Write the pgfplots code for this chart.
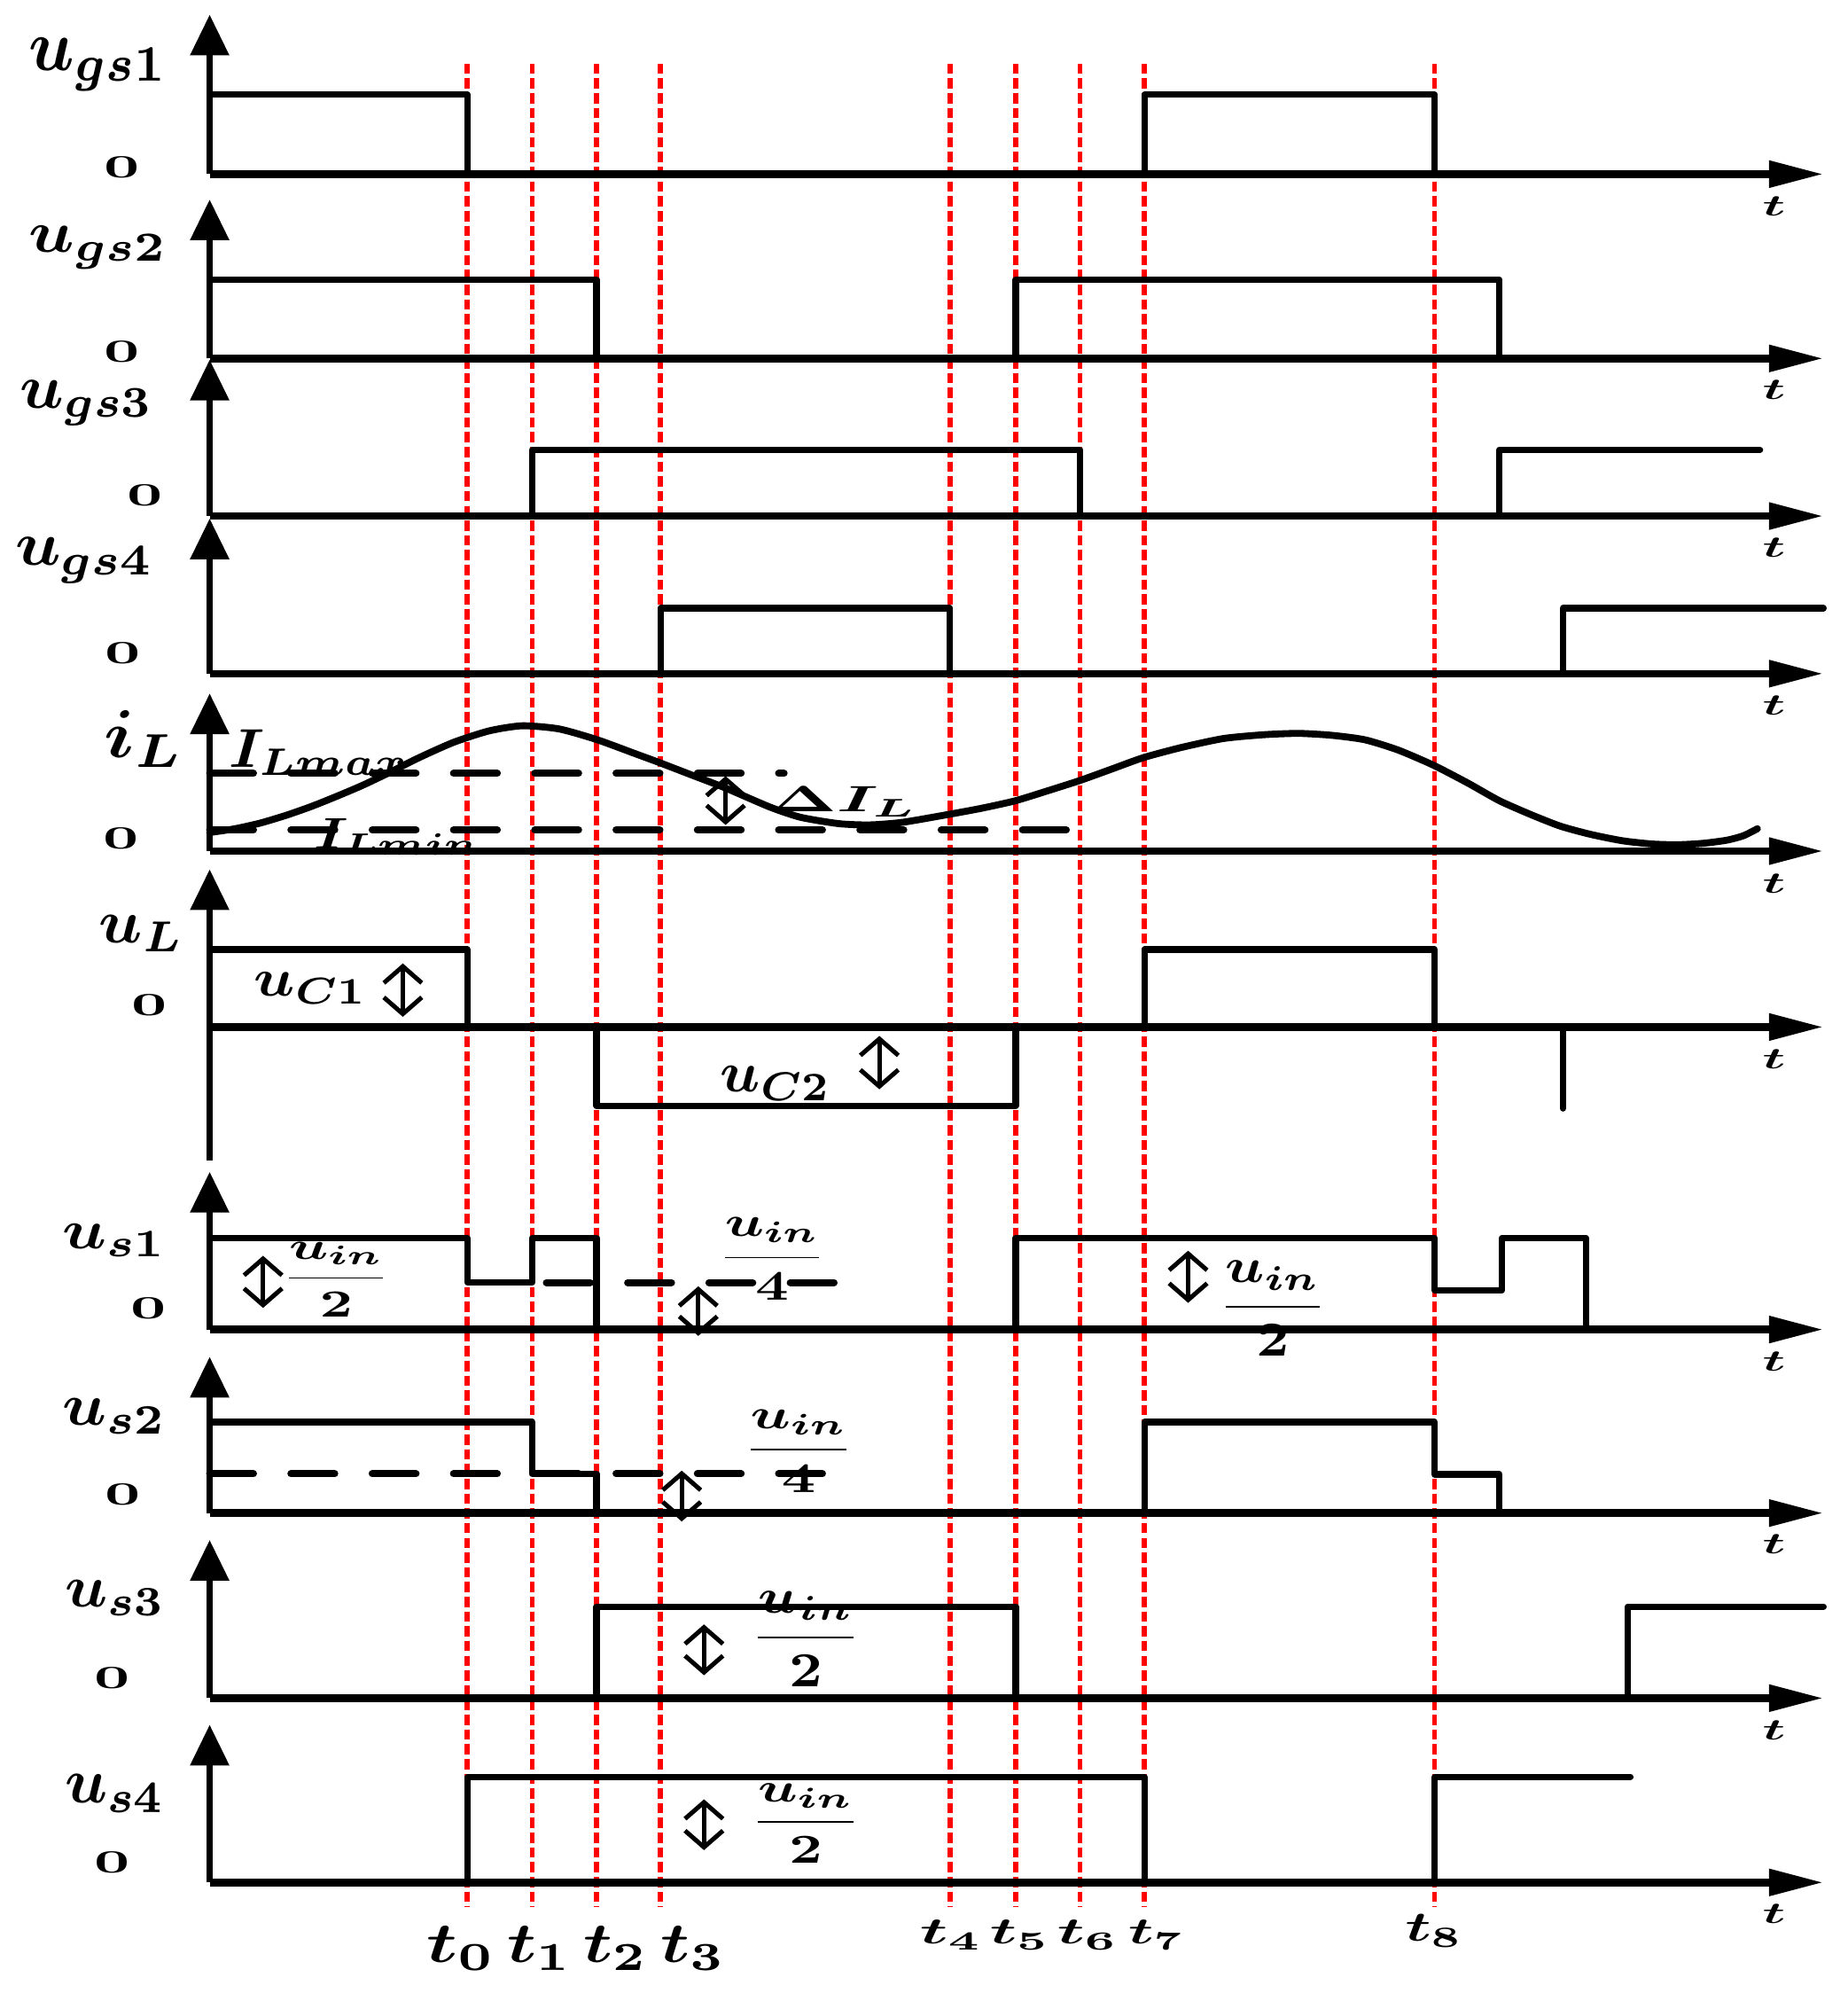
\documentclass[border=0pt]{standalone}
\usepackage{amsmath}
\usepackage{graphicx}
\usepackage{pgfplots}
\pgfplotsset{compat=1.18}
\usetikzlibrary{arrows.meta}
\newlength{\pxu}\setlength{\pxu}{0.1mm}
\newcommand{\bx}[3]{\resizebox*{#1\pxu}{#2\pxu}{#3}}
\pgfplotsset{
 sig/.style={black, line width=1.45pt, line join=round, line cap=round, forget plot},
 base/.style={black, line width=1.7pt, -{Triangle[length=12.2pt,width=5.7pt]}, forget plot},
 vax/.style={black, line width=1.3pt, -{Triangle[length=9.1pt,width=8.5pt]}, forget plot},
 reddash/.style={red, line width=1.1pt, dash pattern=on 2.3pt off 1pt, forget plot},
 bdash/.style={black, line width=1.6pt, line cap=round, dash pattern=on 9.8pt off 8.4pt, forget plot},
 dbl/.style={black, line width=1pt, {Straight Barb[length=3.7pt,width=8.5pt]}-{Straight Barb[length=3.7pt,width=8.5pt]}, forget plot},
}
\tikzset{lab/.style={inner sep=0pt, outer sep=0pt, font=\boldmath}}
\begin{document}
\begin{tikzpicture}
\begin{axis}[scale only axis, width=145.4mm, height=156.8mm,
  xmin=0, xmax=1454, ymin=0, ymax=1568, y dir=reverse, hide axis, clip=false]
\addplot[draw=none, forget plot] coordinates {(0,0) (1454,1568)};
% red time markers
\addplot[reddash] coordinates {(367.7,50) (367.7,1500)};
\addplot[reddash] coordinates {(418.7,50) (418.7,1500)};
\addplot[reddash] coordinates {(469.5,50) (469.5,1500)};
\addplot[reddash] coordinates {(519.8,50) (519.8,1500)};
\addplot[reddash] coordinates {(747.6,50) (747.6,1500)};
\addplot[reddash] coordinates {(799.3,50) (799.3,1500)};
\addplot[reddash] coordinates {(850.0,50) (850.0,1500)};
\addplot[reddash] coordinates {(900.6,50) (900.6,1500)};
\addplot[reddash] coordinates {(1129,50) (1129,1500)};
% axes
\addplot[base] coordinates {(165,137) (1435,137)};
\addplot[base] coordinates {(165,282) (1435,282)};
\addplot[base] coordinates {(165,406) (1435,406)};
\addplot[base] coordinates {(165,530) (1435,530)};
\addplot[base] coordinates {(165,669.6) (1435,669.6)};
\addplot[base] coordinates {(165,808) (1435,808)};
\addplot[base] coordinates {(165,1046) (1435,1046)};
\addplot[base] coordinates {(165,1190.4) (1435,1190.4)};
\addplot[base] coordinates {(165,1336) (1435,1336)};
\addplot[base] coordinates {(165,1481) (1435,1481)};
\addplot[vax] coordinates {(165,137) (165,11.6)};
\addplot[vax] coordinates {(165,282) (165,157)};
\addplot[vax] coordinates {(165,406) (165,283)};
\addplot[vax] coordinates {(165,530) (165,408)};
\addplot[vax] coordinates {(165,669.6) (165,545.6)};
\addplot[vax] coordinates {(165,913) (165,684)};
\addplot[vax] coordinates {(165,1046) (165,922)};
\addplot[vax] coordinates {(165,1190.4) (165,1067.5)};
\addplot[vax] coordinates {(165,1336) (165,1211.6)};
\addplot[vax] coordinates {(165,1481) (165,1357)};
% ugs1
\addplot[sig] coordinates {(165,74.5) (367.7,74.5) (367.7,137)};
\addplot[sig] coordinates {(900.6,137) (900.6,74.5) (1129,74.5) (1129,137)};
% ugs2
\addplot[sig] coordinates {(165,220) (469.5,220) (469.5,282)};
\addplot[sig] coordinates {(799.3,282) (799.3,220) (1180,220) (1180,282)};
% ugs3
\addplot[sig] coordinates {(418.7,406) (418.7,354) (850,354) (850,406)};
\addplot[sig] coordinates {(1180,406) (1180,354) (1385,354)};
% ugs4
\addplot[sig] coordinates {(519.8,530) (519.8,478.5) (747.6,478.5) (747.6,530)};
\addplot[sig] coordinates {(1230,530) (1230,478.5) (1435,478.5)};
% iL
\addplot[bdash] coordinates {(165,608.5) (617,608.5)};
\addplot[bdash] coordinates {(165,653) (852,653)};
\addplot[sig, line width=1.55pt, smooth, tension=0.4] coordinates {
 (165,655) (185,652) (205,647.5) (225,641.5) (245,634.5) (265,626.5) (285,618)
 (305,608.5) (330,596) (357,584) (385,575) (411,571) (440,573.5) (470,582) (500,593) (519,600)
 (545,610) (571,620) (606,635) (630,643) (660,648) (684,649) (710,647)
 (745,641) (772,636) (799,630) (825,622) (850,614) (875,605) (900,596)
 (930,588) (963,581) (995,578) (1022,577) (1048,578.5) (1074,582) (1100,590)
 (1128,602) (1155,616) (1180,630) (1205,641) (1228,650) (1252,656.5) (1277,661.5)
 (1300,664) (1320,664.6) (1340,663.5) (1359,661) (1372,657.5) (1383,652)};
% uL
\addplot[sig] coordinates {(165,747) (367.7,747) (367.7,808)};
\addplot[sig] coordinates {(469.5,808) (469.5,870) (799.3,870) (799.3,808)};
\addplot[sig] coordinates {(900.6,808) (900.6,747) (1129,747) (1129,808)};
\addplot[sig] coordinates {(1230,811) (1230,872)};
% us1
\addplot[bdash] coordinates {(430,1009) (664,1009)};
\addplot[sig] coordinates {(165,974) (367.7,974) (367.7,1009) (418.7,1009) (418.7,974) (469.5,974) (469.5,1046)};
\addplot[sig] coordinates {(799.3,1046) (799.3,974) (1129,974) (1129,1015) (1182,1015) (1182,974) (1248,974) (1248,1046)};
% us2
\addplot[bdash] coordinates {(165,1159.5) (656,1159.5)};
\addplot[sig] coordinates {(165,1118.7) (418.7,1118.7) (418.7,1159.5) (469.5,1159.5) (469.5,1190.4)};
\addplot[sig] coordinates {(900.6,1190.4) (900.6,1118.7) (1129,1118.7) (1129,1160) (1180,1160) (1180,1190.4)};
% us3
\addplot[sig] coordinates {(469.5,1336) (469.5,1264) (799.3,1264) (799.3,1336)};
\addplot[sig] coordinates {(1281,1336) (1281,1264) (1435,1264)};
% us4
\addplot[sig] coordinates {(367.7,1481) (367.7,1398) (900.6,1398) (900.6,1481)};
\addplot[sig] coordinates {(1129,1481) (1129,1398) (1283,1398)};
% double arrows
\addplot[dbl] coordinates {(571,610.6) (571,649)};
\addplot[dbl] coordinates {(317,758) (317,800)};
\addplot[dbl] coordinates {(692,815) (692,857)};
\addplot[dbl] coordinates {(207,988) (207,1029)};
\addplot[dbl] coordinates {(549.5,1012) (549.5,1051)};
\addplot[dbl] coordinates {(935,984) (935,1025)};
\addplot[dbl] coordinates {(536.5,1157) (536.5,1197)};
\addplot[dbl] coordinates {(554,1278) (554,1318)};
\addplot[dbl] coordinates {(554,1415.6) (554,1455.6)};
% panel labels
\node[lab] at (axis cs:77.5,51) {\bx{109}{42}{$u_{gs1}$}};
\node[lab] at (axis cs:77.5,195) {\bx{109}{34}{$u_{gs2}$}};
\node[lab] at (axis cs:68.5,317) {\bx{105}{36}{$u_{gs3}$}};
\node[lab] at (axis cs:66.5,441) {\bx{109}{36}{$u_{gs4}$}};
\node[lab] at (axis cs:113.5,581.5) {\bx{63}{45}{$i_L$}};
\node[lab] at (axis cs:111.5,734.5) {\bx{67}{29}{$u_L$}};
\node[lab] at (axis cs:90,976) {\bx{82}{26}{$u_{s1}$}};
\node[lab] at (axis cs:90,1114) {\bx{82}{28}{$u_{s2}$}};
\node[lab] at (axis cs:90.5,1257) {\bx{79}{28}{$u_{s3}$}};
\node[lab] at (axis cs:90.5,1411) {\bx{79}{30}{$u_{s4}$}};
% zeros
\node[lab] at (axis cs:96,131.5) {\bx{28}{17}{\bfseries 0}};
\node[lab] at (axis cs:96,277) {\bx{28}{17}{\bfseries 0}};
\node[lab] at (axis cs:114,390) {\bx{28}{17}{\bfseries 0}};
\node[lab] at (axis cs:96.5,514) {\bx{28}{17}{\bfseries 0}};
\node[lab] at (axis cs:95.5,659.5) {\bx{28}{17}{\bfseries 0}};
\node[lab] at (axis cs:117.5,790.5) {\bx{28}{17}{\bfseries 0}};
\node[lab] at (axis cs:117,1029.5) {\bx{28}{17}{\bfseries 0}};
\node[lab] at (axis cs:96.5,1175.5) {\bx{28}{17}{\bfseries 0}};
\node[lab] at (axis cs:88,1320) {\bx{28}{17}{\bfseries 0}};
\node[lab] at (axis cs:88,1465) {\bx{28}{17}{\bfseries 0}};
% t axis labels
\node[lab] at (axis cs:1396,162) {\bx{18}{15}{$t$}};
\node[lab] at (axis cs:1396,307) {\bx{18}{15}{$t$}};
\node[lab] at (axis cs:1396,431) {\bx{18}{15}{$t$}};
\node[lab] at (axis cs:1396,555) {\bx{18}{15}{$t$}};
\node[lab] at (axis cs:1396,695) {\bx{18}{15}{$t$}};
\node[lab] at (axis cs:1396,833) {\bx{18}{15}{$t$}};
\node[lab] at (axis cs:1396,1071) {\bx{18}{15}{$t$}};
\node[lab] at (axis cs:1396,1215) {\bx{18}{15}{$t$}};
\node[lab] at (axis cs:1396,1361) {\bx{18}{15}{$t$}};
\node[lab] at (axis cs:1396,1506) {\bx{18}{15}{$t$}};
% iL annotations
\node[lab] at (axis cs:251,592) {\bx{142}{36}{$I_{Lmax}$}};
\node[lab] at (axis cs:312.5,658.5) {\bx{131}{29}{$I_{Lmin}$}};
\node[lab] at (axis cs:664,631) {\bx{116}{24}{$\Delta I_L$}};
% uL annotations
\node[lab] at (axis cs:244.5,777.5) {\bx{89}{25}{$u_{C1}$}};
\node[lab] at (axis cs:610.5,852.5) {\bx{87}{27}{$u_{C2}$}};
% fractions
\node[lab] at (axis cs:264.5,1006.5) {\bx{85}{59}{$\dfrac{u_{in}}{2}$}};
\node[lab] at (axis cs:607.5,990.5) {\bx{85}{65}{$\dfrac{u_{in}}{4}$}};
\node[lab] at (axis cs:1001.5,1029.5) {\bx{85}{75}{$\dfrac{u_{in}}{2}$}};
\node[lab] at (axis cs:628.5,1141.5) {\bx{87}{65}{$\dfrac{u_{in}}{4}$}};
\node[lab] at (axis cs:634,1289.5) {\bx{86}{75}{$\dfrac{u_{in}}{2}$}};
\node[lab] at (axis cs:634,1434.5) {\bx{86}{63}{$\dfrac{u_{in}}{2}$}};
% time labels
\node[lab] at (axis cs:363,1533) {\bx{54}{35}{$t_0$}};
\node[lab] at (axis cs:424.5,1533) {\bx{51}{35}{$t_1$}};
\node[lab] at (axis cs:484.5,1533) {\bx{51}{35}{$t_2$}};
\node[lab] at (axis cs:545.5,1533) {\bx{51}{35}{$t_3$}};
\node[lab] at (axis cs:748.5,1522.5) {\bx{49}{23}{$t_4$}};
\node[lab] at (axis cs:802.5,1522.5) {\bx{47}{23}{$t_5$}};
\node[lab] at (axis cs:856,1522.5) {\bx{48}{23}{$t_6$}};
\node[lab] at (axis cs:910,1522.5) {\bx{44}{23}{$t_7$}};
\node[lab] at (axis cs:1128.5,1519) {\bx{45}{26}{$t_8$}};
\end{axis}
\end{tikzpicture}
\end{document}
